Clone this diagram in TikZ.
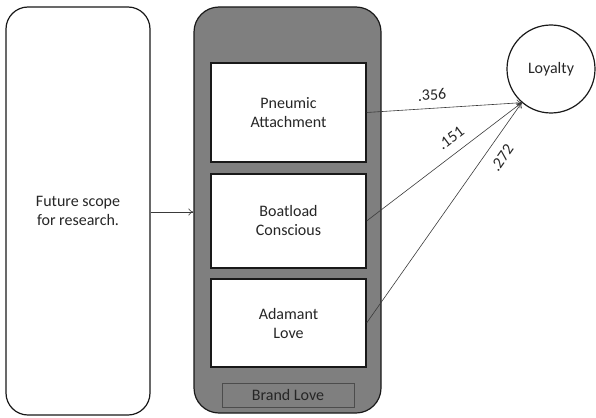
\documentclass[tikz,border=0pt]{standalone}
\usepackage{fontspec}
\setmainfont{Carlito}
\usetikzlibrary{arrows.meta}
\definecolor{boxgray}{HTML}{7F7F7F}
\definecolor{linegray}{HTML}{3A3A3A}
\tikzset{
  txt/.style={font=\fontsize{16}{19}\selectfont, text=black!85, align=center},
  outerbox/.style={draw=black!90, line width=1.2pt, rounded corners=22pt, txt, inner sep=0pt},
  innerbox/.style={draw=black!90, fill=white, line width=1.2pt, txt, inner sep=0pt, minimum width=155pt},
  conn/.style={draw=linegray, line width=0.6pt, -{To[length=5pt,width=7pt]}},
  lbl/.style={font=\fontsize{16}{19}\selectfont, text=black!85, inner sep=1pt}
}
\begin{document}
\begin{tikzpicture}[x=1pt,y=-1pt]
\useasboundingbox (0,0) rectangle (596,417);
\node[outerbox, fill=white, minimum width=144pt, minimum height=408pt] (scope) at (78,211) {Future scope\\for research.};
\node[outerbox, fill=boxgray, minimum width=187pt, minimum height=406pt, rounded corners=25pt] (brand) at (287.5,210) {};
\node[innerbox, minimum height=99pt] (pa) at (288.5,112.5) {Pneumic\\Attachment};
\node[innerbox, minimum height=94pt] (bc) at (288.5,221) {Boatload\\Conscious};
\node[innerbox, minimum height=88pt] (al) at (288.5,323) {Adamant\\Love};
\node[draw=black!70, fill=boxgray, line width=0.8pt, minimum width=132pt, minimum height=24pt, inner sep=0pt, txt] (bl) at (288,395) {Brand Love};
\node[draw=black!90, line width=1.2pt, circle, minimum size=88pt, inner sep=0pt, txt] (loy) at (551,69) {Loyalty};
\draw[conn] (scope.east |- 0,212) -- (brand.west |- 0,212);
\draw[conn] (pa.east) -- (loy.-131);
\draw[conn] (bc.east) -- (loy.-131);
\draw[conn] (al.east) -- (loy.-131);
\node[lbl, rotate=3.7] (l356) at (432,95) {.356};
\node[lbl, rotate=37] (l151) at (451,138) {.151};
\node[lbl, rotate=55] (l272) at (502,158) {.272};
\end{tikzpicture}
\end{document}
